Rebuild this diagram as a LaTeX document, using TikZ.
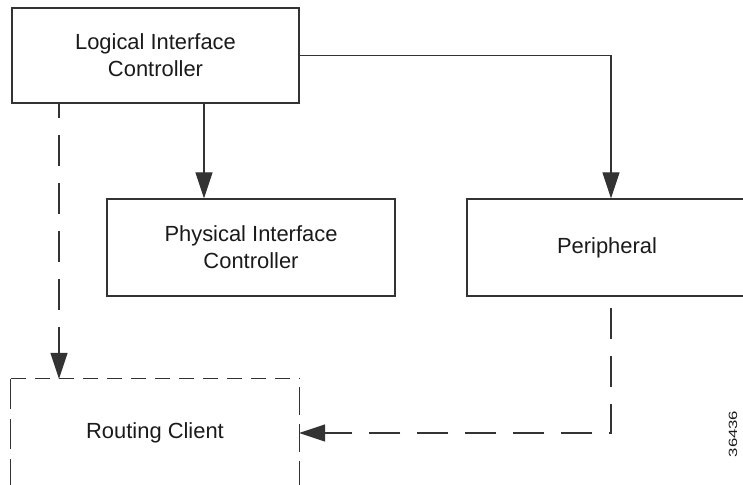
\documentclass[tikz,border=0pt]{standalone}
\usepackage{fontspec}
\setmainfont{Liberation Sans}
\usepackage{graphicx}
\usetikzlibrary{arrows.meta}
\definecolor{ln}{HTML}{333333}
\definecolor{tx}{HTML}{1A1A1A}
\begin{document}
\begin{tikzpicture}[x=1bp,y=-1bp,
  lbl/.style={font=\fontsize{22}{27}\selectfont, text=tx, align=center, inner sep=0pt},
  boxnode/.style={lbl, draw=ln, line width=1.3bp, rectangle},
  arr/.style={draw=ln, line width=1.3bp, -{Triangle[length=26bp,width=17bp]}},
  longdash/.style={dash pattern=on 31bp off 17bp},
  rcedge/.style={draw=ln, line width=1.3bp}
]
\useasboundingbox (0,0) rectangle (743,485);
\clip (0,0) rectangle (743,485);

\node[boxnode, minimum width=287bp, minimum height=95bp] (LIC) at (155.5,55.5) {Logical Interface\\Controller};
\node[boxnode, minimum width=288bp, minimum height=97bp] (PIC) at (251,247.5) {Physical Interface\\Controller};
\node[boxnode, minimum width=280bp, minimum height=97bp] (Peri) at (607,247.5) {Peripheral};
\node[lbl, minimum width=288bp, minimum height=108bp] (RC) at (155,433) {Routing Client};

\draw[rcedge, dash pattern=on 15bp off 9bp] (RC.north west) -- (RC.north east);
\draw[rcedge, dash pattern=on 30bp off 10bp] (RC.north west) -- (RC.south west);
\draw[rcedge, dash pattern=on 28bp off 9bp, dash phase=29bp] (RC.north east) -- (RC.south east);

\coordinate (xa) at (204,0);
\coordinate (xb) at (59,0);

\draw[arr] (LIC.east) -| ([xshift=4bp]Peri.north);
\draw[arr] (LIC.south -| xa) -- (PIC.north -| xa);
\draw[arr, longdash, dash phase=17bp] (LIC.south -| xb) -- (RC.north -| xb);
\draw[arr, longdash, dash phase=37bp] ([xshift=4bp]Peri.south) |- (RC.east);

\node[rotate=90, font=\fontsize{12}{14}\selectfont, text=tx, inner sep=0pt] (fig) at (733,434) {\scalebox{1.4}[1]{36436}};
\end{tikzpicture}
\end{document}
